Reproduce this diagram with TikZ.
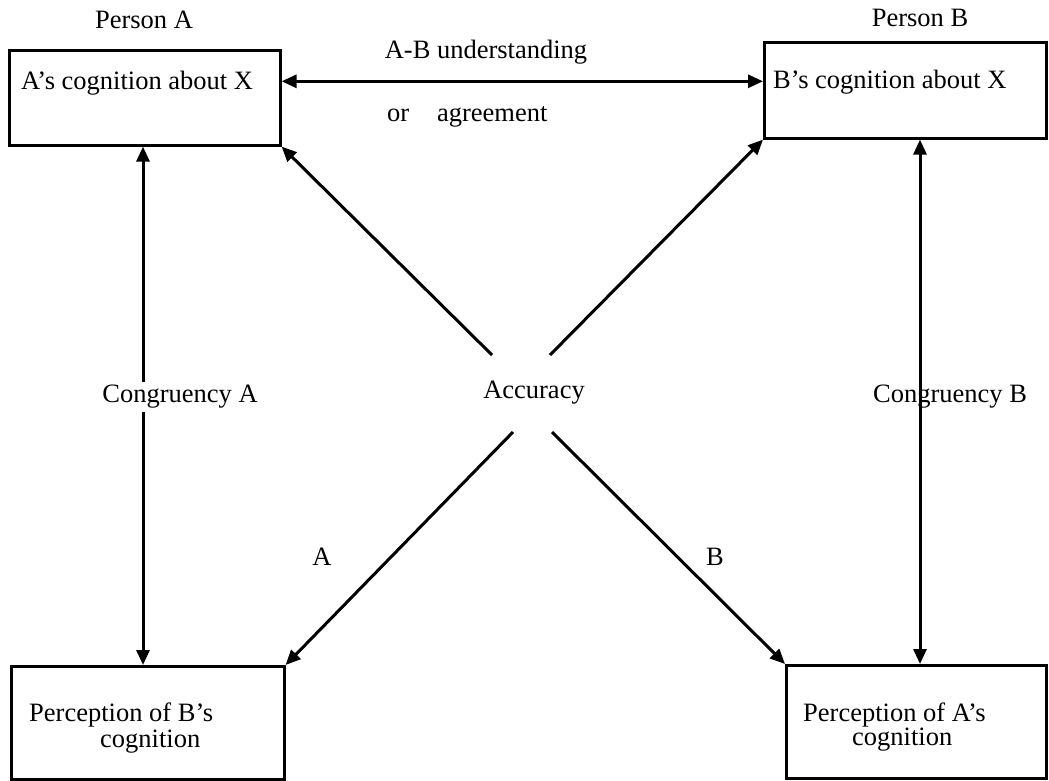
\documentclass[tikz,border=0pt]{standalone}
\usepackage{fontspec}
\setmainfont{Liberation Serif}
\usetikzlibrary{arrows.meta,calc}
\begin{document}
\begin{tikzpicture}[x=1pt,y=-1pt,
  every node/.style={font=\fontsize{26.5}{30}\selectfont, inner sep=0pt},
  box/.style={draw, line width=2.6pt, rectangle, anchor=north west},
  conn/.style={line width=3pt, -{Triangle[length=15pt,width=13pt]}},
  dconn/.style={line width=3pt, {Triangle[length=15pt,width=13pt]}-{Triangle[length=15pt,width=13pt]}},
  lbl/.style={anchor=center},
  lblw/.style={anchor=west}]
\useasboundingbox (0,0) rectangle (1049,780);
\fill[white] (0,0) rectangle (1049,780);

% boxes
\node[box, minimum width=271pt, minimum height=95pt] (bA) at (8,49) {};
\node[box, minimum width=282pt, minimum height=96pt] (bB) at (763,41) {};
\node[box, minimum width=273pt, minimum height=113pt] (bBL) at (10,665) {};
\node[box, minimum width=260pt, minimum height=113pt] (bBR) at (785,664) {};

% titles and box texts
\node[lbl] (pA) at (144,20) {Person A};
\node[lbl] (pB) at (920,18) {Person B};
\node[lblw] (tA) at (21,83) {A’s cognition about X};
\node[lblw] (tB) at (773,82) {B’s cognition about X};
\node[lblw] (tBL1) at (29,715) {Perception of B’s};
\node[lblw] (tBL2) at (100,742) {cognition};
\node[lblw] (tBR1) at (803,715) {Perception of A’s};
\node[lblw] (tBR2) at (852,740) {cognition};

% horizontal A-B arrow
\coordinate (h1) at ([yshift=16.5pt]bA.east);
\draw[dconn] (h1) -- (bB.west |- h1);
\node[lbl] (ab) at (486,52) {A-B understanding};
\node[lblw] (or) at (387,117) {or\hspace{1.05em}agreement};

% vertical congruency arrows
\coordinate (va) at ([xshift=135pt]bA.south west);
\draw[dconn] (va) -- (va |- bBL.north);
\coordinate (vb) at ([xshift=157pt]bB.south west);
\draw[dconn] (vb) -- (vb |- bBR.north);
\node[lbl, fill=white, inner sep=3pt] (cA) at (180,397) {Congruency A};
\node[lbl] (cB) at (950,397) {Congruency B};

% accuracy
\node[lbl] (acc) at (534,393) {Accuracy};
\coordinate (aul) at (492,355);
\coordinate (aur) at (550,355);
\coordinate (all) at (513,432);
\coordinate (alr) at (552,432);
\draw[conn] (aul) -- (bA.south east);
\draw[conn] (aur) -- (bB.south west);
\draw[conn] (all) -- (bBL.north east);
\draw[conn] (alr) -- (bBR.north west);
\node[lbl] (la) at (322,557) {A};
\node[lbl] (lb) at (715,557) {B};
\end{tikzpicture}
\end{document}
